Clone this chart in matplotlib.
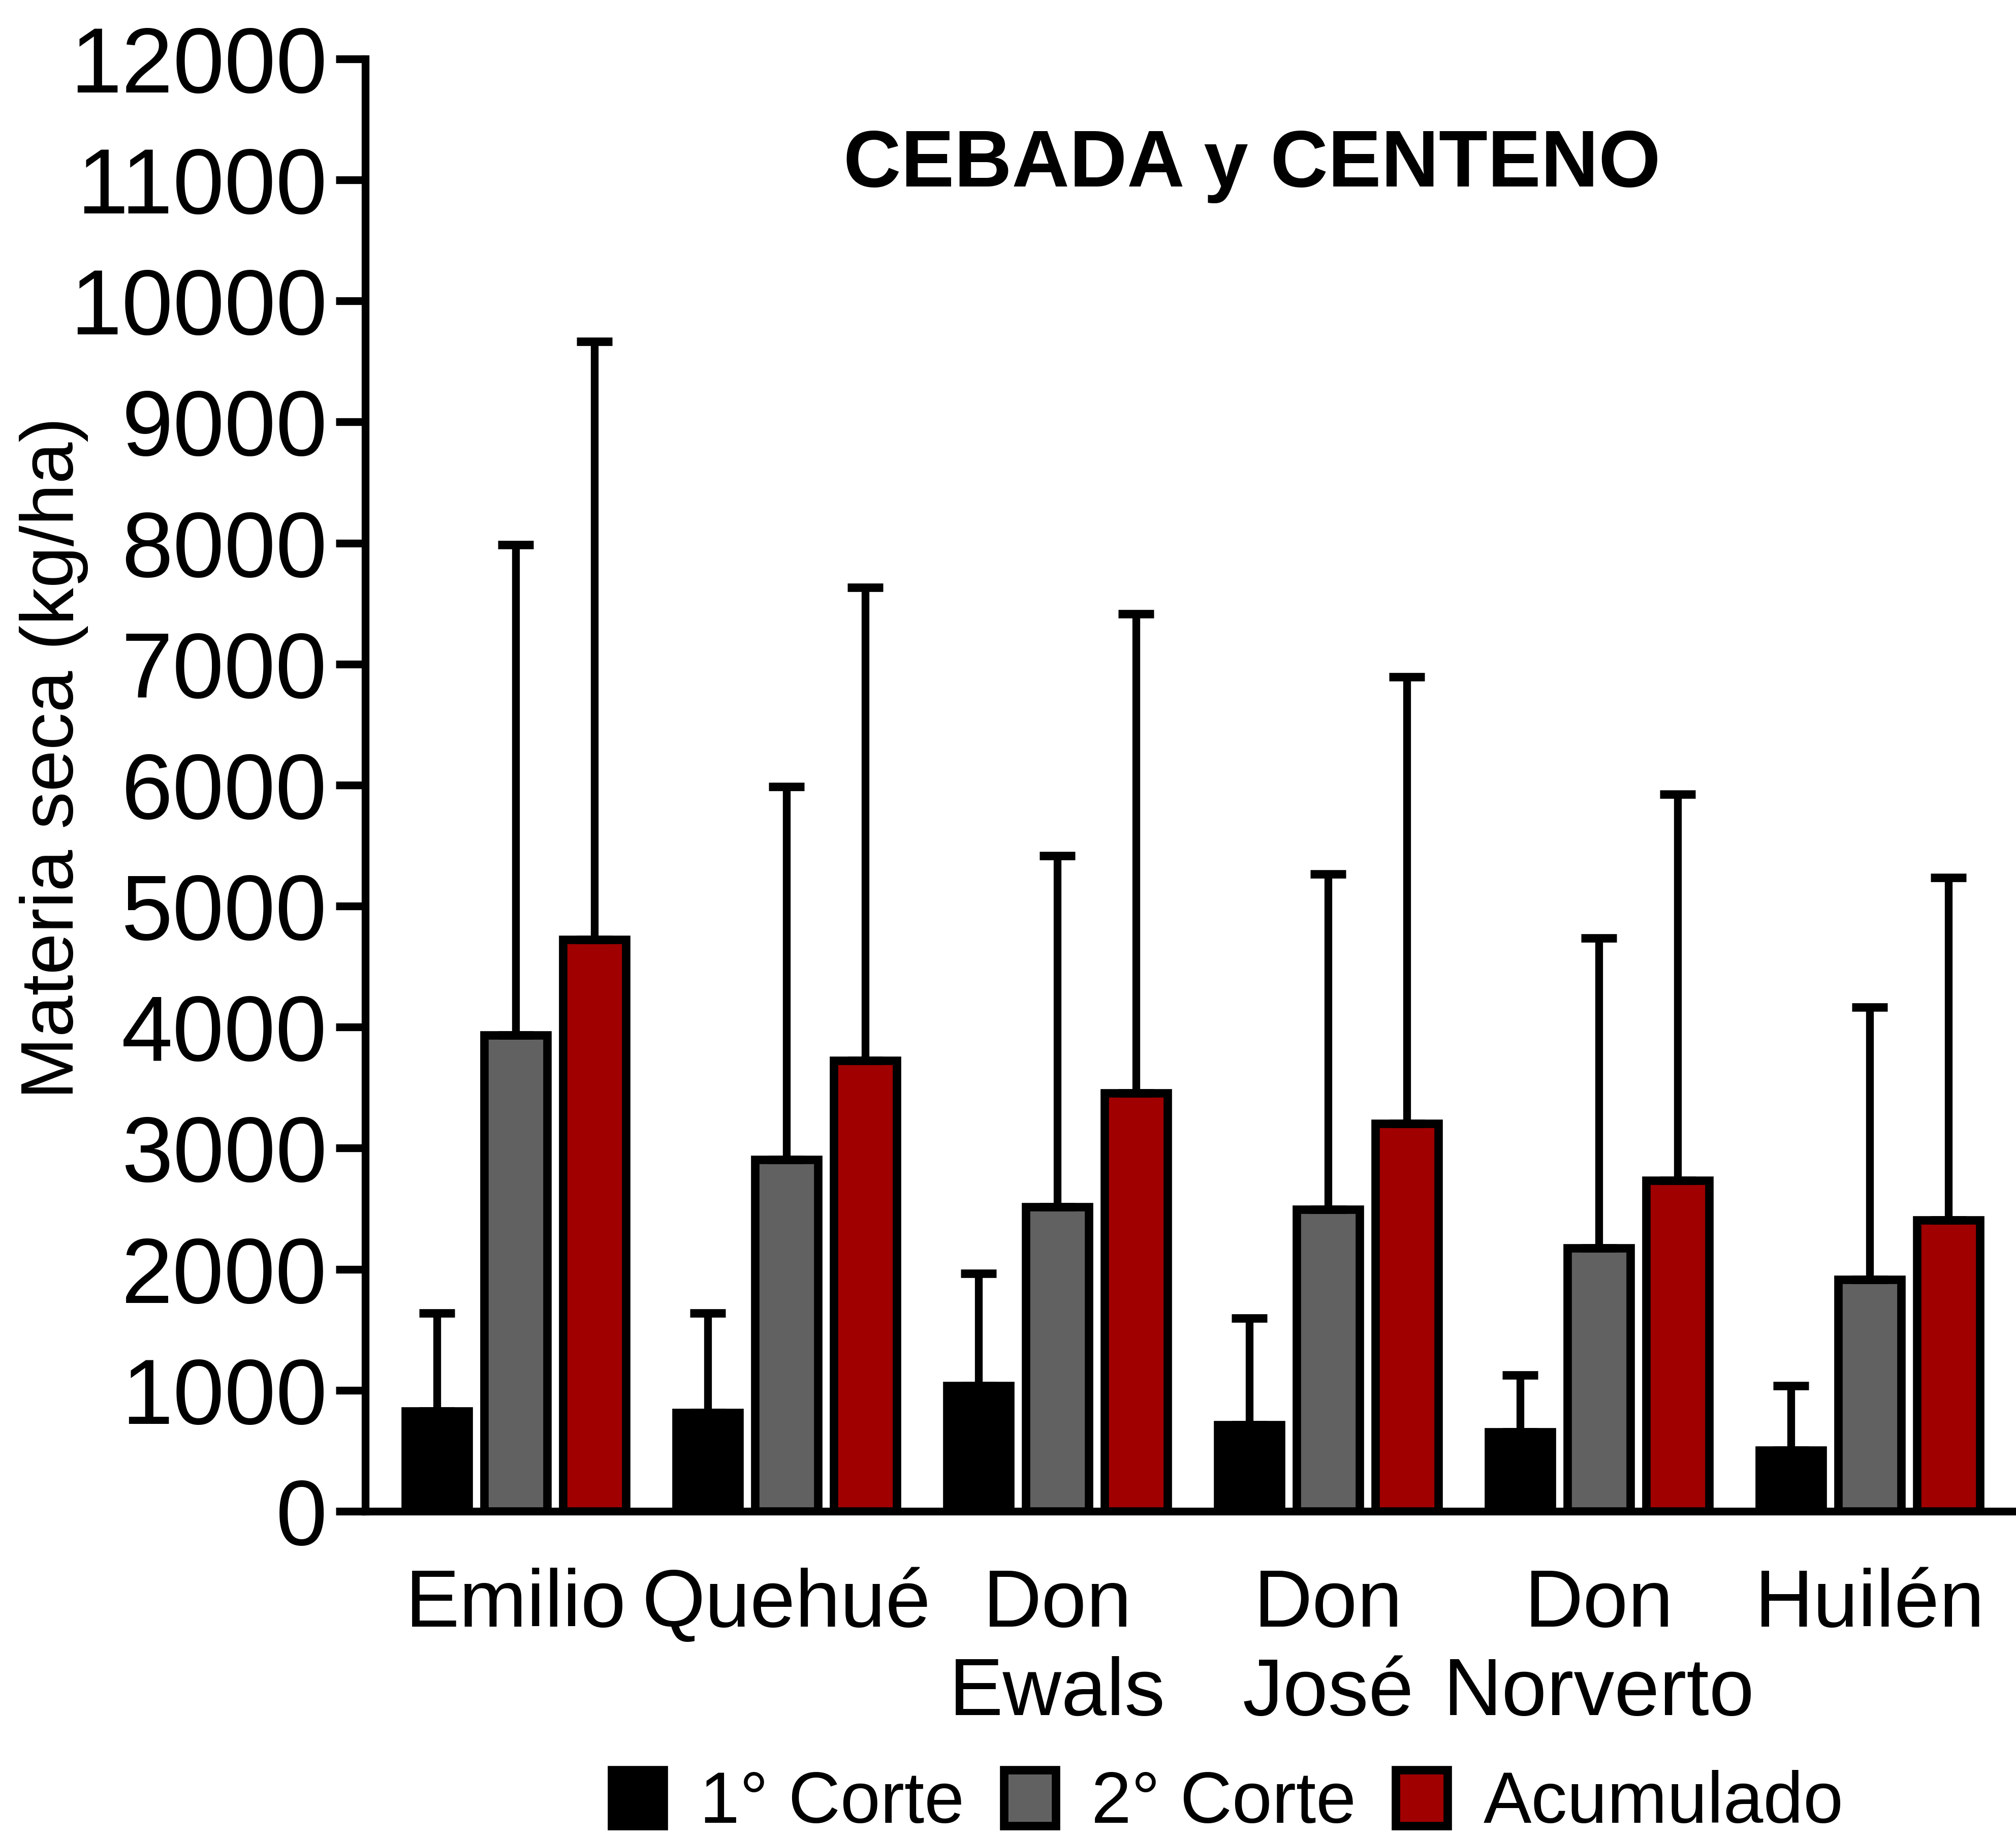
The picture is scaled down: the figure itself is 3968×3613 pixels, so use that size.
import numpy as np
import matplotlib
matplotlib.use('Agg')
import matplotlib.pyplot as plt

plt.rcParams['font.family'] = ['Liberation Sans', 'DejaVu Sans']

# data (kg/ha)
varieties = ['Emilio', 'Quehué', 'Don\nEwals', 'Don\nJosé', 'Don\nNorverto', 'Huilén']
corte1 = [825, 815, 1035, 715, 655, 505]
corte1_top = [1635, 1635, 1965, 1595, 1125, 1035]
corte2 = [3935, 2905, 2515, 2495, 2175, 1915]
corte2_top = [7985, 5985, 5415, 5265, 4735, 4165]
acum = [4725, 3725, 3455, 3205, 2735, 2405]
acum_top = [9665, 7635, 7415, 6895, 5925, 5235]
series = ['1° Corte', '2° Corte', 'Acumulado']
colors = ['#000000', '#616161', '#a00000']

fig = plt.figure(figsize=(39.68, 36.13), dpi=100)
ax = fig.add_axes([0.1812, 0.1769, 0.8188, 0.791])

x = np.arange(len(varieties))
w = 0.233
step = 0.291
means = [corte1, corte2, acum]
tops = [corte1_top, corte2_top, acum_top]
handles = []
for i in range(3):
    m = np.array(means[i])
    err = np.array(tops[i]) - m
    b = ax.bar(x + (i - 1) * step, m, width=w, color=colors[i], edgecolor='black',
               linewidth=12, yerr=[np.zeros_like(err), err],
               error_kw=dict(elinewidth=11, capsize=25, capthick=12, ecolor='black'),
               label=series[i])
    handles.append(b)

ax.set_ylim(0, 12000)
ax.set_xlim(-0.555, 5.54)
ax.set_yticks(np.arange(0, 12001, 1000))
ax.set_xticks(x)
ax.set_xticklabels(varieties)
for t in ax.get_xticklabels():
    t.set_linespacing(1.22)

for s in ['top', 'right']:
    ax.spines[s].set_visible(False)
for s in ['left', 'bottom']:
    ax.spines[s].set_linewidth(11)
ax.tick_params(axis='y', length=42, width=11, labelsize=131, pad=12)
ax.tick_params(axis='x', length=0, labelsize=115, pad=80)

fig.text(0.621, 0.9095, 'CEBADA y CENTENO', fontsize=113, fontweight='bold',
         ha='center', va='center')
fig.text(0.0267, 0.587, 'Materia seca (kg/ha)', fontsize=106, rotation=90,
         ha='center', va='center')

fig.legend(handles, series, loc='center', bbox_to_anchor=(0.609, 0.0175), ncol=3,
           frameon=False, fontsize=102, handlelength=0.72, handleheight=0.82,
           handletextpad=0.5, columnspacing=0.55)

fig.savefig('out.png', dpi=100)
